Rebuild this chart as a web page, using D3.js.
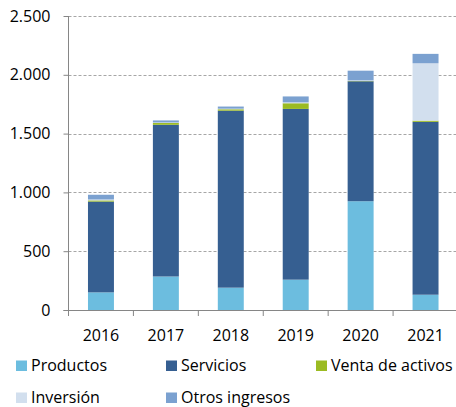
<!DOCTYPE html>
<html>
<head>
<meta charset="utf-8">
<script src="https://cdn.jsdelivr.net/npm/d3@7"></script>
<style>
  body{ margin:0; background:#fff; font-family:"Open Sans",sans-serif; }
</style>
</head>
<body>
<div id="chart"></div>
<script>
  var years = ["2016","2017","2018","2019","2020","2021"];
  var productos = [150, 285, 190, 258, 925, 130];
  var servicios = [772, 1290, 1505, 1452, 1020, 1470];
  var ventaActivos = [10, 15, 12, 48, 3, 10];
  var inversion = [8, 5, 5, 8, 5, 488];
  var otrosIngresos = [40, 17, 18, 50, 82, 80];
  var yTicks = [0, 500, 1000, 1500, 2000, 2500];

  var series = [
    {name:"Productos", values:productos, color:"#6cbddf"},
    {name:"Servicios", values:servicios, color:"#365f91"},
    {name:"Venta de activos", values:ventaActivos, color:"#9bbb22"},
    {name:"Inversión", values:inversion, color:"#d2dfee"},
    {name:"Otros ingresos", values:otrosIngresos, color:"#7ba1d0"}
  ];

  var W = 456, H = 407;
  var margin = {top: 16, right: -2, bottom: 97, left: 68.5};
  var width = W - margin.left - margin.right,
      height = H - margin.top - margin.bottom;
  var fontSize = "16px";

  var svg = d3.select("#chart").append("svg")
      .attr("width", W).attr("height", H);

  var g = svg.append("g")
      .attr("transform", "translate(" + margin.left + "," + margin.top + ")");

  var x = d3.scaleBand().domain(years).range([0, width]).paddingInner(0.6).paddingOuter(0.3);
  var xb = d3.scaleBand().domain(years).range([0, width]);
  var y = d3.scaleLinear().domain([0, 2500]).range([height, 0]);

  // grid
  g.selectAll(".grid").data(yTicks.filter(d => d > 0)).enter().append("line")
    .attr("x1", 0).attr("x2", width)
    .attr("y1", d => Math.round(y(d)) + 0.5).attr("y2", d => Math.round(y(d)) + 0.5)
    .attr("stroke", "#a6a6a6").attr("stroke-dasharray", "3,2");

  // stacked bars
  var table = years.map(function(yr, i){
    var o = {year: yr};
    series.forEach(s => o[s.name] = s.values[i]);
    return o;
  });
  var stack = d3.stack().keys(series.map(s => s.name))(table);

  g.selectAll(".layer").data(stack).enter().append("g")
    .attr("fill", (d, i) => series[i].color)
    .selectAll("rect").data(d => d).enter().append("rect")
    .attr("x", d => x(d.data.year))
    .attr("width", x.bandwidth())
    .attr("y", d => y(d[1]))
    .attr("height", d => y(d[0]) - y(d[1]));

  // y axis
  var yAxis = d3.axisLeft(y).tickValues(yTicks).tickSize(5).tickPadding(13)
    .tickFormat(d => d3.format(",")(d).replace(/,/g, "."));
  var ya = g.append("g").call(yAxis);
  ya.select(".domain").attr("stroke", "#868686").attr("d", "M0," + y(2500) + "V" + height);
  ya.selectAll(".tick line").attr("stroke", "#868686");
  ya.selectAll(".tick text").attr("fill", "#000").style("font-size", fontSize)
    .style("font-family", "'Open Sans',sans-serif");

  // x axis
  var xa = g.append("g").attr("transform", "translate(0," + height + ")")
    .call(d3.axisBottom(x).tickSize(0).tickPadding(20));
  xa.select(".domain").attr("stroke", "#868686").attr("d", "M-5,0.5H" + width);
  xa.selectAll(".tick text").attr("fill", "#000").style("font-size", fontSize)
    .style("font-family", "'Open Sans',sans-serif");
  g.selectAll(".xtick").data(years).enter().append("line")
    .attr("x1", d => xb(d)).attr("x2", d => xb(d))
    .attr("y1", height).attr("y2", height + 6)
    .attr("stroke", "#868686");

  // legend
  var legPos = [[16, 365.5], [166, 365.5], [316, 365.5], [16, 397.5], [166, 397.5]];
  var leg = svg.selectAll(".leg").data(series).enter().append("g")
    .attr("transform", (d, i) => "translate(" + legPos[i][0] + "," + legPos[i][1] + ")");
  leg.append("rect").attr("x", 0).attr("y", -5).attr("width", 11).attr("height", 10.5)
    .attr("fill", d => d.color);
  leg.append("text").attr("x", 15).attr("y", 5.5)
    .style("font-size", fontSize).style("font-family", "'Open Sans',sans-serif")
    .text(d => d.name);
</script>
</body>
</html>
